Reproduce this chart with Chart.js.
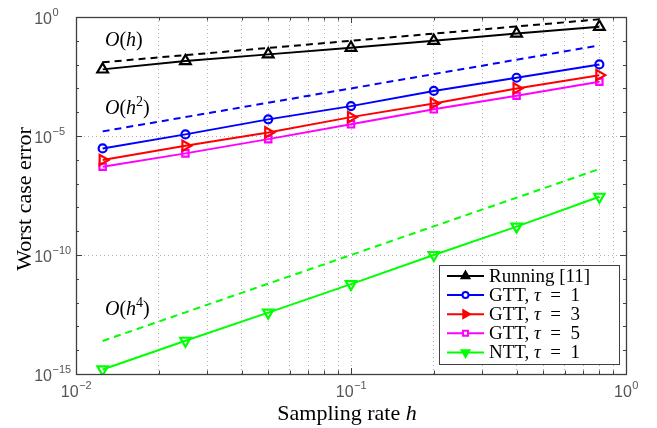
<!DOCTYPE html>
<html>
<head>
<meta charset="utf-8">
<script src="https://cdn.jsdelivr.net/npm/chart.js@4.4.0/dist/chart.umd.min.js"></script>
<style>
html,body{margin:0;padding:0;background:#fff;}
#c{display:block;}
</style>
</head>
<body>
<canvas id="c" width="657" height="428"></canvas>
<script>
// ---- data ----
const hValues = [0.0125, 0.025, 0.05, 0.1, 0.2, 0.4, 0.8];
const running = [0.0063, 0.0141, 0.0269, 0.0513, 0.1, 0.204, 0.389];
const gtt1 = [3.0e-6, 1.17e-5, 5.0e-5, 1.8e-4, 7.8e-4, 2.8e-3, 1.02e-2];
const gtt3 = [9.8e-7, 3.9e-6, 1.41e-5, 6.2e-5, 2.34e-4, 1.0e-3, 3.6e-3];
const gtt5 = [5.1e-7, 1.86e-6, 7.4e-6, 3.1e-5, 1.32e-4, 4.9e-4, 1.9e-3];
const ntt = [1.55e-15, 2.5e-14, 3.8e-13, 6.0e-12, 1.0e-10, 1.55e-9, 2.8e-8];
// reference slope lines
const refH1 = [0.0125, 0.025, 0.05, 0.1, 0.2, 0.4, 0.8];
const refH2 = [1.5625e-5, 6.25e-5, 2.5e-4, 1.0e-3, 4.0e-3, 1.6e-2, 6.4e-2];
const refH4 = [2.44e-14, 3.9e-13, 6.25e-12, 1.0e-10, 1.6e-9, 2.56e-8, 4.1e-7];
// ticks
const xTicks = [0.01,0.02,0.03,0.04,0.05,0.06,0.07,0.08,0.09,0.1,0.2,0.3,0.4,0.5,0.6,0.7,0.8,0.9,1];
const xLabelTicks = [0.01, 0.1, 1];
const yTicks = [1e-15, 1e-10, 1e-5, 1];
const yMinorTicks = [1e-14,1e-13,1e-12,1e-11,1e-9,1e-8,1e-7,1e-6,1e-4,1e-3,1e-2,1e-1];
const legendLabels = ['Running [11]', 'GTT, τ = 1', 'GTT, τ = 3', 'GTT, τ = 5', 'NTT, τ = 1'];

function exponentOf(v){ return String(Math.round(Math.log10(v))).replace('-', '\u2212'); }
function pts(ys){ return hValues.map((h,i)=>({x:h,y:ys[i]})); }

const SERIF = '"Liberation Serif","Times New Roman",serif';
const SANS = '"Liberation Sans",Arial,sans-serif';

const series = [
  {label:legendLabels[0], data:pts(running), color:'#000000', style:'triangle', rot:0, r:6.2, lr:4.5},
  {label:legendLabels[1], data:pts(gtt1), color:'#0000ff', style:'circle', rot:0, r:4, lr:3},
  {label:legendLabels[2], data:pts(gtt3), color:'#ff0000', style:'triangle', rot:90, r:6, lr:4.5},
  {label:legendLabels[3], data:pts(gtt5), color:'#ff00ff', style:'rect', rot:0, r:4.5, lr:3.5},
  {label:legendLabels[4], data:pts(ntt), color:'#00ff00', style:'triangle', rot:180, r:6, lr:4.5},
];

const datasets = [
  {data:pts(refH1), borderColor:'#000', borderDash:[7,5], borderWidth:2, pointRadius:0, fill:false},
  {data:pts(refH2), borderColor:'#0000ff', borderDash:[7,5], borderWidth:2, pointRadius:0, fill:false},
  {data:pts(refH4), borderColor:'#00ff00', borderDash:[7,5], borderWidth:2, pointRadius:0, fill:false},
].concat(series.map(s=>({
  label:s.label, data:s.data, borderColor:s.color, borderWidth:2,
  pointStyle:s.style, pointRotation:s.rot, pointRadius:s.r,
  pointBorderColor:s.color, pointBackgroundColor:'rgba(255,255,255,0)', pointBorderWidth:2.2, fill:false
})));

// rich text helper
function drawRich(ctx, parts, x, y, size, align){
  const widths = parts.map(p=>{
    const fs = p[2] ? size*0.7 : size;
    ctx.font = (p[1]?'italic ':'') + fs + 'px ' + SERIF;
    return ctx.measureText(p[0]).width;
  });
  const total = widths.reduce((a,b)=>a+b,0);
  let cx = align==='center' ? x - total/2 : x;
  ctx.textBaseline = 'alphabetic';
  ctx.textAlign = 'left';
  parts.forEach((p,i)=>{
    const fs = p[2] ? size*0.7 : size;
    ctx.font = (p[1]?'italic ':'') + fs + 'px ' + SERIF;
    ctx.fillText(p[0], cx, p[2] ? y - size*0.42 : y);
    cx += widths[i];
  });
}

function drawPow(ctx, v, x, baseline, mode){
  ctx.font = '16px ' + SANS;
  const w10 = ctx.measureText('10').width;
  const ex = exponentOf(v);
  ctx.font = '11px ' + SANS;
  const we = ctx.measureText(ex).width;
  let x0 = mode === 'center' ? x - (w10+we)/2 : x - w10;
  ctx.textAlign = 'left'; ctx.textBaseline = 'alphabetic';
  ctx.font = '16px ' + SANS;
  ctx.fillText('10', x0, baseline);
  ctx.font = '11px ' + SANS;
  ctx.fillText(ex, x0 + w10 + 0.5, baseline - 8);
}

const SP = '\u2002';
const legendRich = [
  [['Running [11]']],
  [['GTT, '],['τ',true],[SP+'='+SP+'1']],
  [['GTT, '],['τ',true],[SP+'='+SP+'3']],
  [['GTT, '],['τ',true],[SP+'='+SP+'5']],
  [['NTT, '],['τ',true],[SP+'='+SP+'1']],
];

const overlay = {
  id:'overlay',
  afterDraw(chart){
    const ctx = chart.ctx, a = chart.chartArea;
    const xs = chart.scales.x, ys = chart.scales.y;
    ctx.save();
    // inward ticks
    ctx.strokeStyle = '#404040'; ctx.lineWidth = 1;
    xTicks.forEach(v=>{
      const px = Math.round(xs.getPixelForValue(v)) + 0.5;
      const len = xLabelTicks.includes(v) ? 6 : 3.5;
      ctx.beginPath();
      ctx.moveTo(px, a.bottom); ctx.lineTo(px, a.bottom-len);
      ctx.moveTo(px, a.top); ctx.lineTo(px, a.top+len);
      ctx.stroke();
    });
    yTicks.concat(yMinorTicks).forEach(v=>{
      const py = Math.round(ys.getPixelForValue(v)) + 0.5;
      const len = yTicks.includes(v) ? 6 : 3;
      ctx.beginPath();
      ctx.moveTo(a.left, py); ctx.lineTo(a.left+len, py);
      ctx.moveTo(a.right, py); ctx.lineTo(a.right-len, py);
      ctx.stroke();
    });
    // frame
    ctx.strokeStyle = '#404040'; ctx.lineWidth = 1.3;
    ctx.strokeRect(Math.round(a.left)+0.5, Math.round(a.top)+0.5, Math.round(a.right-a.left), Math.round(a.bottom-a.top));

    // tick labels
    ctx.fillStyle = '#555';
    xLabelTicks.forEach(v=> drawPow(ctx, v, xs.getPixelForValue(v), a.bottom + 23, 'center'));
    yTicks.forEach(v=> drawPow(ctx, v, 52, ys.getPixelForValue(v) + 7, 'base'));

    // axis titles
    ctx.fillStyle = '#000';
    drawRich(ctx, [['Sampling rate '],['h',true]], 347, 420, 22, 'center');
    ctx.save();
    ctx.translate(31, 199);
    ctx.rotate(-Math.PI/2);
    drawRich(ctx, [['Worst case error']], 0, 0, 22, 'center');
    ctx.restore();

    // slope annotations
    const lx = 105;
    drawRich(ctx, [['O',true],['('],['h',true],[')']], lx, ys.getPixelForValue(0.058), 20, 'left');
    drawRich(ctx, [['O',true],['('],['h',true],['2',false,true],[')']], lx, ys.getPixelForValue(8.4e-5), 20, 'left');
    drawRich(ctx, [['O',true],['('],['h',true],['4',false,true],[')']], lx, ys.getPixelForValue(3.0e-13), 20, 'left');

    // legend
    const bx = 439, by = 265, bw = 180, bh = 99;
    ctx.fillStyle = '#fff';
    ctx.fillRect(bx, by, bw, bh);
    ctx.strokeStyle = '#404040'; ctx.lineWidth = 1;
    ctx.strokeRect(bx+0.5, by+0.5, bw, bh);
    series.forEach((s,i)=>{
      const ry = 276 + i*19.1;
      ctx.strokeStyle = s.color; ctx.lineWidth = 2;
      ctx.beginPath(); ctx.moveTo(447, ry); ctx.lineTo(484, ry); ctx.stroke();
      ctx.fillStyle = (i===1 || i===3) ? '#fff' : s.color;
      ctx.strokeStyle = s.color;
      Chart.helpers.drawPoint(ctx, {pointStyle:s.style, rotation:s.rot, radius:s.lr, borderWidth:2}, 465.5, ry);
      ctx.fillStyle = '#000';
      drawRich(ctx, legendRich[i], 489, ry+6, 19, 'left');
    });
    ctx.restore();
  }
};

new Chart(document.getElementById('c'), {
  type:'line',
  data:{datasets},
  options:{
    responsive:false, animation:false, devicePixelRatio:1,
    layout:{padding:{left:0, right:31, top:17, bottom:0}},
    plugins:{legend:{display:false}, tooltip:{enabled:false}},
    elements:{line:{tension:0}},
    scales:{
      x:{
        type:'logarithmic', min:0.01, max:1,
        afterBuildTicks(s){ s.ticks = xTicks.map(v=>({value:v, major:xLabelTicks.includes(v)})); },
        afterFit(s){ s.height = 54; },
        ticks:{ display:false, autoSkip:false },
        grid:{color:'#b0b0b0', lineWidth:1, drawTicks:false},
        border:{display:false, dash:[1,3]}
      },
      y:{
        type:'logarithmic', min:1e-15, max:1,
        afterBuildTicks(s){ s.ticks = yTicks.map(v=>({value:v, major:true})); },
        afterFit(s){ s.width = 76; },
        ticks:{ display:false, autoSkip:false },
        grid:{color:'#b0b0b0', lineWidth:1, drawTicks:false},
        border:{display:false, dash:[1,3]}
      }
    }
  },
  plugins:[overlay]
});
</script>
</body>
</html>
